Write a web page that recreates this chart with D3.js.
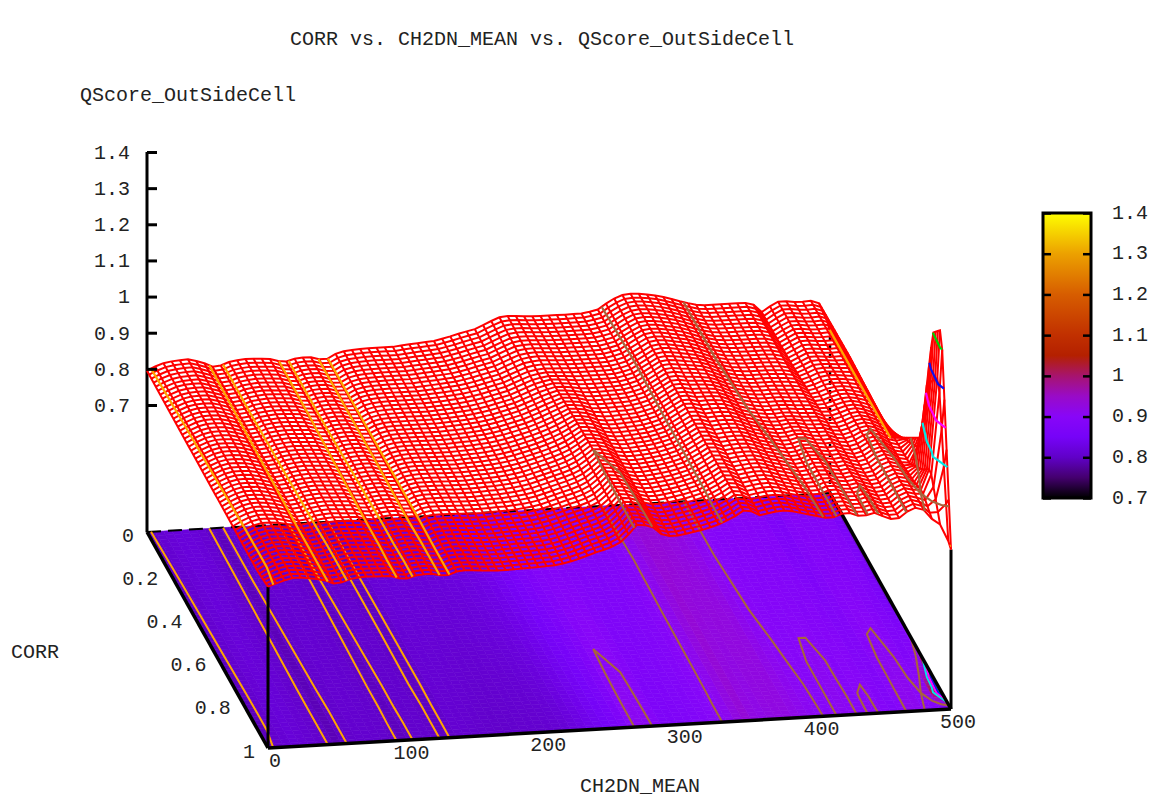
<!DOCTYPE html>
<html lang="en">
<head>
  <meta charset="UTF-8">
  <title>CORR vs. CH2DN_MEAN vs. QScore_OutSideCell</title>
  <script src="https://cdn.jsdelivr.net/npm/d3@7"></script>
  <style>
    html, body { margin: 0; padding: 0; background: #fff; }
    svg { display: block; }
    text { font-family: "Liberation Mono", "DejaVu Sans Mono", monospace; font-size: 20px; fill: #222; }
  </style>
</head>
<body>
  <svg id="chart" width="1160" height="798"></svg>
  <script>
    // values. each zAtCorr array is one profile along CH2DN_MEAN
    const chValues = [0, 10, 20, 30, 40, 50, 60, 70, 80, 90, 100, 110, 120, 130, 140, 150, 160, 170, 180, 190,
      200, 210, 220, 230, 240, 250, 260, 270, 280, 290, 300, 310, 320, 330, 340, 350, 360, 370, 380, 390, 400,
      405, 410, 415, 420, 425, 430, 435, 440, 445, 450, 455, 460, 465, 470, 475, 480, 485, 490, 495, 500];
    const corrValues = [0, 0.25, 0.5, 0.75, 0.85, 0.92, 1];

    const zAtCorr0 = [.795,.812,.818,.820,.810,.792,.806,.812,.811,.808,.796,.807,.806,.795,.816,.820,.822,.822,.822,.826,
      .829,.832,.840,.850,.858,.875,.890,.888,.885,.884,.884,.884,.885,.893,.918,.932,.930,.925,.915,.903,.892,
      .888,.888,.888,.888,.888,.888,.888,.888,.880,.860,.872,.885,.888,.885,.882,.882,.883,.884,.862,.797];
    const zAtCorr25 = [.792,.811,.819,.817,.808,.792,.806,.811,.810,.807,.796,.807,.806,.795,.814,.817,.818,.818,.818,.820,
      .823,.827,.833,.842,.851,.866,.880,.884,.882,.880,.880,.880,.881,.891,.912,.934,.932,.925,.918,.903,.893,
      .890,.889,.888,.888,.888,.888,.887,.886,.880,.864,.872,.884,.887,.885,.883,.882,.883,.884,.870,.797];
    const zAtCorr50 = [.790,.810,.818,.815,.807,.791,.805,.810,.808,.806,.795,.806,.806,.795,.812,.814,.814,.813,.813,.815,
      .817,.821,.827,.836,.846,.858,.874,.895,.893,.876,.876,.878,.882,.892,.915,.936,.926,.928,.924,.906,.896,
      .893,.890,.891,.892,.892,.890,.887,.888,.886,.878,.876,.880,.888,.892,.893,.888,.880,.875,.862,.800];
    const zAtCorr75 = [.788,.808,.817,.813,.806,.790,.804,.809,.807,.805,.794,.805,.805,.795,.811,.811,.810,.808,.808,.810,
      .811,.815,.820,.831,.842,.852,.870,.904,.900,.874,.874,.878,.884,.894,.913,.935,.920,.925,.925,.912,.903,
      .897,.893,.898,.906,.906,.900,.889,.893,.895,.886,.880,.880,.892,.906,.908,.900,.885,.876,.885,.950];
    const zAtCorr85 = [.787,.808,.817,.813,.806,.790,.803,.809,.807,.805,.794,.805,.805,.796,.810,.810,.808,.806,.806,.808,
      .809,.812,.818,.829,.840,.850,.868,.906,.902,.873,.873,.878,.885,.895,.912,.935,.918,.924,.925,.913,.904,
      .900,.894,.898,.906,.907,.901,.891,.897,.899,.890,.883,.880,.892,.907,.910,.905,.890,.900,.960,1.30];
    const zAtCorr92 = [.787,.808,.817,.812,.806,.790,.803,.808,.806,.805,.793,.805,.805,.796,.810,.809,.806,.804,.805,.807,
      .808,.810,.816,.827,.839,.849,.867,.907,.903,.872,.872,.878,.885,.896,.912,.935,.916,.923,.925,.914,.905,
      .901,.894,.898,.906,.908,.902,.892,.901,.903,.892,.884,.880,.892,.908,.912,.905,.900,.930,1.02,1.35];
    const zAtCorr100 = [.795,.808,.817,.812,.806,.790,.803,.808,.806,.805,.793,.805,.805,.796,.810,.808,.805,.803,.804,.806,
      .807,.809,.815,.826,.838,.848,.866,.908,.904,.872,.872,.878,.885,.896,.912,.935,.915,.922,.925,.915,.905,
      .902,.895,.898,.906,.908,.902,.892,.902,.904,.893,.885,.880,.893,.908,.912,.904,.880,.868,.850,.790];
    const zRows = [zAtCorr0, zAtCorr25, zAtCorr50, zAtCorr75, zAtCorr85, zAtCorr92, zAtCorr100];

    const zTicks = [0.7, 0.8, 0.9, 1, 1.1, 1.2, 1.3, 1.4];
    const chTicks = [0, 100, 200, 300, 400, 500];
    const corrTicks = [0, 0.2, 0.4, 0.6, 0.8, 1];
    const contourLevels = [0.8, 0.9, 1, 1.1, 1.2, 1.3];
    const contourColors = ['#ffa500', '#a8643c', '#00e8e8', '#ff00ff', '#1010ee', '#00d000'];
    const paletteValues = [0.7, 0.75, 0.8, 0.85, 0.9, 0.95, 1, 1.05, 1.1, 1.2, 1.3, 1.4];
    const paletteColors = ['#000000', '#44006e', '#6001c8', '#7603f8', '#8806f8', '#990bc7', '#a7146e', '#b42000',
      '#c13000', '#d75d00', '#eca100', '#ffff00'];

    const svg = d3.select('#chart');

    // screen scales of the 3d box
    const chToX = d3.scaleLinear().domain([0, 500]).range([147, 830]);
    const chToY = d3.scaleLinear().domain([0, 500]).range([0, -39]);
    const corrToX = d3.scaleLinear().domain([0, 1]).range([0, 121]);
    const corrToY = d3.scaleLinear().domain([0, 1]).range([0, 216]);
    const zToY = d3.scaleLinear().domain([0.7, 1.4]).range([405, 152]);
    const zFloor = zToY.invert(532);
    const color = d3.scaleLinear().domain(paletteValues).range(paletteColors).clamp(true);

    function project(ch, corr, z) {
      return [chToX(ch) + corrToX(corr), zToY(z) + chToY(ch) + corrToY(corr)];
    }

    // the mesh is finer than the typed profiles, so lines between them are read through scales
    const rowScales = zRows.map(row => d3.scaleLinear().domain(chValues).range(row));
    function zAt(ch, corr) {
      return d3.scaleLinear().domain(corrValues).range(rowScales.map(s => s(ch)))(corr);
    }

    const meshCh = d3.range(0, 500, 6).concat([500]);
    const meshCorr = d3.range(0, 55).map(i => i / 55).concat([1]);
    const line = d3.line();

    // floor coloured by z
    const floorG = svg.append('g');
    for (let i = 0; i < meshCh.length - 1; i++) {
      for (let j = 0; j < meshCorr.length - 1; j++) {
        const a = meshCh[i], b = meshCh[i + 1], c = meshCorr[j], d = meshCorr[j + 1];
        const col = color(zAt((a + b) / 2, (c + d) / 2));
        floorG.append('path')
          .attr('d', line([project(a, c, zFloor), project(b, c, zFloor), project(b, d, zFloor), project(a, d, zFloor)]) + 'Z')
          .attr('fill', col)
          .attr('stroke', col)
          .attr('stroke-width', 0.6);
      }
    }

    // box lines
    function boxLine(p0, p1, width, dash) {
      svg.append('path')
        .attr('d', line([p0, p1]))
        .attr('fill', 'none')
        .attr('stroke', '#000')
        .attr('stroke-width', width)
        .attr('stroke-dasharray', dash || null);
    }
    boxLine(project(0, 0, zFloor), project(500, 0, zFloor), 2, '14,7');
    boxLine(project(500, 0, zFloor), project(500, 0, zAt(500, 0)), 2.5, '4,5');

    // contours from the typed table, split where a ring runs along the table border
    const nx = chValues.length, ny = corrValues.length;
    const indexToCh = d3.scaleLinear().domain(d3.range(nx)).range(chValues).clamp(true);
    const indexToCorr = d3.scaleLinear().domain(d3.range(ny)).range(corrValues).clamp(true);
    const contourData = d3.contours().size([nx, ny]).thresholds(contourLevels)(zRows.flat());
    const contourLines = [];
    contourData.forEach((geo, k) => {
      geo.coordinates.forEach(poly => poly.forEach(ring => {
        let cur = [];
        ring.forEach(p => {
          if (p[0] <= 0 || p[0] >= nx || p[1] <= 0 || p[1] >= ny) {
            if (cur.length > 1) contourLines.push({ k: k, pts: cur });
            cur = [];
          } else {
            cur.push([indexToCh(p[0] - 0.5), indexToCorr(p[1] - 0.5)]);
          }
        });
        if (cur.length > 1) contourLines.push({ k: k, pts: cur });
      }));
    });

    svg.append('g').selectAll('path')
      .data(contourLines)
      .enter()
      .append('path')
      .attr('d', d => line(d.pts.map(p => project(p[0], p[1], zFloor))))
      .attr('fill', 'none')
      .attr('stroke', d => contourColors[d.k])
      .attr('stroke-width', 2);

    // front and side edges of the box
    boxLine(project(0, 0, zFloor), project(0, 1, zFloor), 3.5);
    boxLine(project(0, 1, zFloor), project(500, 1, zFloor), 3.5);
    boxLine(project(500, 0, zFloor), project(500, 1, zFloor), 3.5);
    boxLine(project(0, 1, zFloor), project(0, 1, zAt(0, 1)), 3);
    boxLine(project(500, 1, zFloor), project(500, 1, zAt(500, 1)), 3);
    boxLine([chToX(0), zToY(1.4)], project(0, 0, zFloor), 3);

    // red mesh, both directions
    const meshG = svg.append('g').attr('fill', 'none').attr('stroke', '#f00').attr('stroke-width', 2);
    meshCh.forEach(ch => {
      meshG.append('path').attr('d', line(meshCorr.map(r => project(ch, r, zAt(ch, r)))));
    });
    meshCorr.forEach(r => {
      meshG.append('path').attr('d', line(meshCh.map(ch => project(ch, r, zAt(ch, r)))));
    });

    // contours lifted onto the surface
    svg.append('g').selectAll('path')
      .data(contourLines)
      .enter()
      .append('path')
      .attr('d', d => line(d.pts.map(p => project(p[0], p[1], contourLevels[d.k]))))
      .attr('fill', 'none')
      .attr('stroke', d => contourColors[d.k])
      .attr('stroke-width', 2.2);

    // z axis
    const zAxis = d3.axisLeft(zToY).tickValues(zTicks).tickSize(-10).tickPadding(17).tickFormat(d => String(d));
    const zAxisG = svg.append('g').attr('transform', `translate(${chToX(0)},0)`).call(zAxis);
    zAxisG.select('.domain').remove();
    zAxisG.selectAll('line').attr('stroke', '#000').attr('stroke-width', 3);
    zAxisG.selectAll('text').style('font-size', '20px').style('font-family', null).attr('fill', '#222');

    // floor labels
    svg.append('g').selectAll('text')
      .data(chTicks)
      .enter()
      .append('text')
      .attr('x', d => project(d, 1, zFloor)[0] + 7)
      .attr('y', d => project(d, 1, zFloor)[1] + 13)
      .attr('text-anchor', 'middle')
      .attr('dominant-baseline', 'central')
      .text(d => d);
    svg.append('g').selectAll('text')
      .data(corrTicks)
      .enter()
      .append('text')
      .attr('x', d => project(0, d, zFloor)[0] - 13)
      .attr('y', d => project(0, d, zFloor)[1] + 4)
      .attr('text-anchor', 'end')
      .attr('dominant-baseline', 'central')
      .text(d => d);

    // titles
    svg.append('text').attr('x', 542).attr('y', 45).attr('text-anchor', 'middle').text('CORR vs. CH2DN_MEAN vs. QScore_OutSideCell');
    svg.append('text').attr('x', 80).attr('y', 101).text('QScore_OutSideCell');
    svg.append('text').attr('x', 11).attr('y', 658).text('CORR');
    svg.append('text').attr('x', 640).attr('y', 792).attr('text-anchor', 'middle').text('CH2DN_MEAN');

    // colour box
    const cbScale = d3.scaleLinear().domain([0.7, 1.4]).range([498, 213]);
    const defs = svg.append('defs');
    const grad = defs.append('linearGradient').attr('id', 'cbGrad').attr('x1', 0).attr('x2', 0).attr('y1', 1).attr('y2', 0);
    paletteValues.forEach((v, i) => {
      grad.append('stop').attr('offset', (v - 0.7) / 0.7).attr('stop-color', paletteColors[i]);
    });
    svg.append('rect')
      .attr('x', 1043).attr('y', cbScale(1.4)).attr('width', 48).attr('height', cbScale(0.7) - cbScale(1.4))
      .attr('fill', 'url(#cbGrad)').attr('stroke', '#000').attr('stroke-width', 3);
    const cbLeft = svg.append('g').attr('transform', 'translate(1043,0)')
      .call(d3.axisRight(cbScale).tickValues(zTicks).tickSize(8).tickFormat(''));
    const cbRight = svg.append('g').attr('transform', 'translate(1091,0)')
      .call(d3.axisLeft(cbScale).tickValues(zTicks).tickSize(8).tickFormat(''));
    [cbLeft, cbRight].forEach(g => {
      g.select('.domain').remove();
      g.selectAll('line').attr('stroke', '#000').attr('stroke-width', 2.5);
    });
    svg.append('g').selectAll('text')
      .data(zTicks)
      .enter()
      .append('text')
      .attr('x', 1112)
      .attr('y', d => cbScale(d))
      .attr('dominant-baseline', 'central')
      .text(d => d);
  </script>
</body>
</html>
